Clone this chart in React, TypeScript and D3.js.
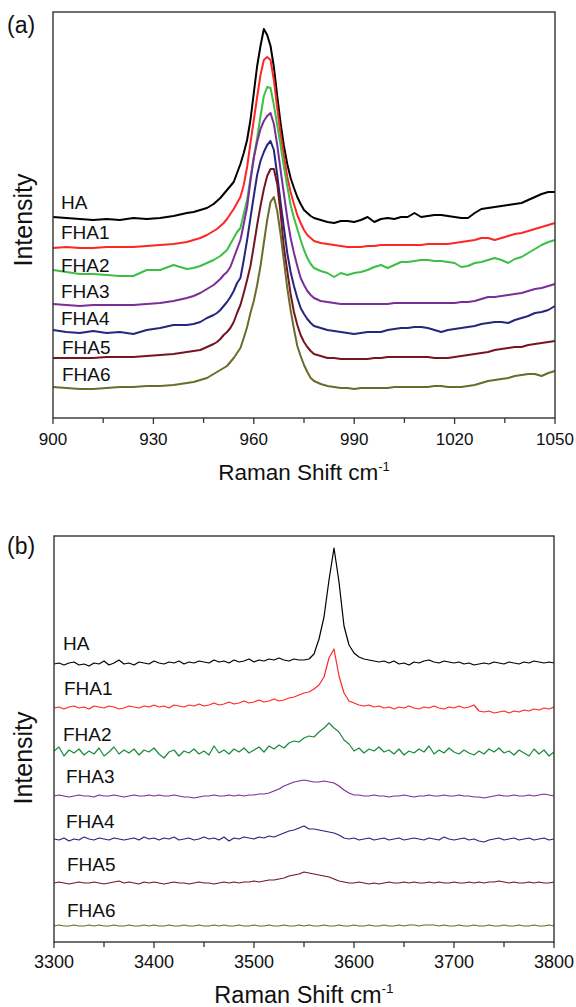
import React from "react";
import * as d3 from "d3";

// ---------- Panel (a): 900–1050 cm-1 ----------
const topX = [900,904,908,912,916,920,924,928,932,936,940,942,944,946,948,
  949,950,951,952,953,954,955,956,957,958,959,960,961,962,963,964,965,966,967,968,969,970,971,972,973,974,975,976,977,978,
  980,982,984,986,988,990,992,994,996,998,1000,1002,1004,1006,1008,1010,1012,1014,1016,1018,1020,1022,1024,1026,1028,1030,1032,1034,1036,1038,1040,1042,1044,1046,1048,1050];

const topHA = [201,200,199,198,199,198,200,199,200,202,205, 206,208,210,214,
  217,220,224,228,232,236,245,254,265,278,298,325,352,372,389,383,372,351,322,295,272,254,240,230,221,214,208,205,202,200,
  198,196,195,197,197,196,198,201,196,199, 200,199,201,201,205,201,202,203,203,202, 201,200,200,205,209,210,211,212,213,214, 215,218,221,224,226,226];
const topFHA1 = [170,171,170,170,171,171,171,172,173,174,176, 178,180,183,187,
  189,192,195,199,204,209,215,221,233,251,275,298,321,343,358,361,358,338,310,284,262,241,226,214,203,195,188,183,180,177,
  175,174,173,172,171,171,171,172,172,173, 173,173,173,173,173,173,174,174,174,174, 175,176,177,178,180,180,178,180,182,184, 185,187,189,191,193,195];
const topFHA2 = [148,146,144,144,143,142,142,148,148,153,149, 150,152,155,158,
  160,162,165,168,174,180,186,190,204,218,240,261,280,302,322,331,330,313,293,273,251,232,213,200,189,178,168,160,154,150,
  147,145,141,145,143,145,146,148,151,153, 150,153,156,156,157,158,158,157,157,156, 155,151,152,155,156,158,160,158,155,159, 161,165,169,173,176,178];
const topFHA3 = [114,113,112,113,113,113,113,114,115,117,120, 122,125,129,133,
  136,139,143,146,151,160,169,178,194,211,237,260,276,289,297,302,305,294,273,248,224,200,180,165,152,140,133,127,123,120,
  117,116,115,114,114,114,114,114,114,114, 114,115,115,115,115,115,115,115,115,115, 115,116,116,117,119,121,121,122,123,124, 125,127,129,130,132,134];
const topFHA4 = [88,86,85,87,85,86,84,88,90,93,93, 94,96,100,103,
  105,108,112,116,121,127,135,140,158,178,200,222,243,257,266,273,277,268,243,216,190,165,146,132,120,110,104,99,95,92,
  90,88,87,86,85,84,85,86,86,86, 88,89,90,90,91,91,90,88,86,88, 89,90,91,92,94,95,96,96,95,98, 100,102,105,106,108,112];
const topFHA5 = [60,60,60,60,61,61,61,62,63,64,66, 67,68,71,74,
  76,79,83,86,90,96,105,113,125,138,152,172,193,212,229,242,249,249,234,205,170,147,124,106,93,83,76,71,67,64,
  62,60,60,59,59,59,59,59,60,60, 61,61,61,61,61,61,61,60,60,60, 61,62,63,64,65,66,68,69,70,71, 71,73,74,75,76,77];
const topFHA6 = [31,30,29,29,30,31,31,32,32,33,35, 36,38,40,44,
  46,48,50,52,56,60,65,70,80,91,105,117,133,152,175,198,216,221,207,184,157,130,108,89,72,62,53,46,40,37,
  34,32,31,30,30,29,30,30,30,30, 30,31,31,31,31,31,31,32,32,31, 31,31,32,33,35,37,38,39,40,42, 43,44,44,42,45,47];

const topTicks = [900, 930, 960, 990, 1020, 1050];
const topMinor = [915, 945, 975, 1005, 1035];

// ---------- Panel (b): 3300–3800 cm-1 (every 5 cm-1) ----------
const botX = d3.range(0, 101).map((i) => 3300 + i * 5);

const botHA = [278,279,277,279,280,277,278,276,279,278, 281,277,279,282,278,279,277,280,279,278,
  281,279,278,280,279,281,278,280,279,281, 280,279,282,280,281,279,282,280,281,283,
  280,282,281,283,282,284,282,281,283,282, 282,283,288,303,325,362,394,360,316,297,
  289,285,283,282,281,280,281,279,281,278, 279,277,280,279,281,282,280,279,281,280,
  279,280,278,279,277,278,279,278,280,279, 278,280,279,278,280,279,281,280,279,280, 279];
const botFHA1 = [234,235,233,235,236,234,235,233,236,235, 234,236,235,233,234,236,235,234,236,235,
  237,235,236,234,237,236,235,237,236,238, 236,237,239,237,238,240,238,239,241,239,
  240,242,240,241,243,241,242,244,245,247, 249,250,253,257,265,284,293,266,249,241,
  239,237,236,237,235,236,234,235,233,235, 234,236,234,233,235,234,236,234,233,235,
  234,236,234,235,237,231,230,231,229,230, 231,229,231,230,232,231,233,232,234,233, 235];
const botFHA2 = [191,195,186,192,189,193,187,191,188,194, 186,190,195,188,192,189,193,187,192,190,
  194,188,184,190,192,186,191,189,193,188, 191,187,196,189,192,188,193,190,194,189,
  192,195,190,196,193,197,194,199,201,200, 204,206,205,210,214,219,214,210,202,198,
  191,194,189,193,191,195,190,192,188,193, 187,191,189,193,190,196,188,192,189,194,
  190,188,192,189,187,191,188,193,190,194, 189,191,187,192,189,186,193,188,192,186, 190];
const botFHA3 = [146,147,146,145,146,147,146,146,145,147, 146,146,147,146,145,146,147,146,146,147,
  146,147,146,146,147,146,145,145,144,145, 146,146,147,146,146,147,146,147,146,147,
  147,148,148,149,151,153,156,158,160,161, 162,161,160,160,161,160,159,156,152,149,
  147,147,146,146,147,146,146,145,146,146, 147,146,145,146,146,147,146,146,147,146,
  146,147,146,146,145,145,144,145,146,147, 146,146,147,146,146,147,146,147,148,147, 146];
const botFHA4 = [103,102,104,101,103,102,105,103,102,104, 103,102,104,103,102,103,104,102,105,103,
  104,102,104,103,105,102,103,104,102,103, 105,103,104,102,105,101,104,103,105,104,
  103,105,104,106,105,107,109,111,112,114, 116,113,113,112,111,110,109,107,104,103,
  104,102,103,104,102,103,104,102,103,104, 102,103,104,103,102,104,103,102,105,103,
  102,103,104,102,103,101,100,102,103,104, 102,103,104,102,103,104,102,103,104,102, 103];
const botFHA5 = [59,60,59,58,59,60,59,59,60,59, 58,59,60,61,59,60,59,58,60,59,
  60,59,58,59,60,59,59,58,59,60, 59,59,58,59,60,59,60,59,60,60,
  61,60,61,62,62,63,64,66,67,68, 70,69,68,67,66,65,63,61,60,59,
  59,60,59,58,59,58,59,60,59,59, 60,59,60,59,59,60,59,60,59,59,
  60,59,59,60,59,60,59,60,60,61, 60,59,60,59,59,60,59,60,59,59, 60];
const botFHA6 = [16,17,16,16,17,16,16,17,16,17, 16,16,17,16,16,17,16,16,17,16,
  17,16,16,17,16,16,17,16,16,17, 16,16,17,16,17,16,16,17,16,16,
  17,16,16,17,16,16,17,16,16,17, 16,17,16,16,17,16,16,17,16,16,
  17,16,16,17,16,16,17,16,16,17, 16,17,17,16,17,17,17,16,17,16,
  16,17,16,16,17,16,16,17,16,16, 17,16,16,17,16,16,17,16,16,17, 16];

const botTicks = [3300, 3400, 3500, 3600, 3700, 3800];
const botMinor = [3350, 3450, 3550, 3650, 3750];

const labels = ["HA", "FHA1", "FHA2", "FHA3", "FHA4", "FHA5", "FHA6"];
const topColors = ["#000000", "#ff2626", "#3dbf45", "#7a2e9a", "#26267e", "#761522", "#6b6b2c"];
const botColors = ["#000000", "#ff2626", "#178a3c", "#7a2e9a", "#26267e", "#761522", "#6b6b2c"];

const topSeries = [topHA, topFHA1, topFHA2, topFHA3, topFHA4, topFHA5, topFHA6];
const botSeries = [botHA, botFHA1, botFHA2, botFHA3, botFHA4, botFHA5, botFHA6];

const topLabelPos = [[61, 209], [61, 239], [61, 272], [61, 298], [61, 325], [62, 354], [62, 381]];
const botLabelPos = [[63, 650], [64, 695], [63, 741], [66, 783], [66, 828], [67, 871], [67, 917]];

const FONT = "'Liberation Sans', Arial, Helvetica, sans-serif";

type PanelProps = {
  xs: number[];
  series: number[][];
  colors: string[];
  domain: [number, number];
  left: number; right: number; top: number; bottom: number;
  ticks: number[]; minor: number[];
  labelPos: number[][];
  tag: string;
  tagY: number;
  tickFont: number;
  titleFont: number;
  titleY: number;
  tickLabelY: number;
  lineWidth: number;
  intensityY: number;
};

function Panel(p: PanelProps) {
  const x = d3.scaleLinear().domain(p.domain).range([p.left, p.right]);
  const y = d3.scaleLinear().domain([0, 406]).range([p.bottom, p.top]);
  const line = d3.line<number>()
    .x((_, i) => x(p.xs[i]))
    .y((d) => y(d));
  const cx = (p.left + p.right) / 2;
  return (
    <g fontFamily={FONT}>
      {p.series.map((s, k) => (
        <path key={k} d={line(s) || ""} fill="none" stroke={p.colors[k]} strokeWidth={p.lineWidth} strokeLinejoin="round" />
      ))}
      <rect x={p.left} y={p.top} width={p.right - p.left} height={p.bottom - p.top} fill="none" stroke="#333" strokeWidth={1.4} />
      {p.ticks.map((t) => (
        <g key={"t" + t}>
          <line x1={x(t)} x2={x(t)} y1={p.bottom} y2={p.bottom + 6} stroke="#333" strokeWidth={1.3} />
          <text x={x(t)} y={p.tickLabelY} textAnchor="middle" fontSize={p.tickFont} fill="#111">{t}</text>
        </g>
      ))}
      {p.minor.map((t) => (
        <line key={"m" + t} x1={x(t)} x2={x(t)} y1={p.bottom} y2={p.bottom + 5} stroke="#333" strokeWidth={1.3} />
      ))}
      {labels.map((l, k) => (
        <text key={l} x={p.labelPos[k][0]} y={p.labelPos[k][1]} fontSize={19} fill="#111">{l}</text>
      ))}
      <text x={cx} y={p.titleY} textAnchor="middle" fontSize={p.titleFont} fill="#111">
        Raman Shift cm<tspan fontSize={p.titleFont * 0.58} dy={-p.titleFont * 0.42}>-1</tspan>
      </text>
      <text transform={`translate(32,${p.intensityY}) rotate(-90)`} textAnchor="middle" fontSize={25} fill="#111">Intensity</text>
      <text x={7} y={p.tagY} fontSize={23} fill="#111">{p.tag}</text>
    </g>
  );
}

export default function App() {
  return (
    <svg width={576} height={1007} style={{ position: "absolute", left: 0, top: 0, background: "#fff" }}>
      <rect width={576} height={1007} fill="#fff" />
      <Panel xs={topX} series={topSeries} colors={topColors} domain={[900, 1050]}
        left={53} right={555} top={12} bottom={418} ticks={topTicks} minor={topMinor}
        labelPos={topLabelPos} tag="(a)" tagY={33} tickFont={17} titleFont={22.5} titleY={480}
        tickLabelY={445} lineWidth={2} intensityY={220} />
      <Panel xs={botX} series={botSeries} colors={botColors} domain={[3300, 3800]}
        left={54} right={554} top={536} bottom={942} ticks={botTicks} minor={botMinor}
        labelPos={botLabelPos} tag="(b)" tagY={554} tickFont={18} titleFont={23.5} titleY={1003}
        tickLabelY={968} lineWidth={1.2} intensityY={758} />
    </svg>
  );
}
